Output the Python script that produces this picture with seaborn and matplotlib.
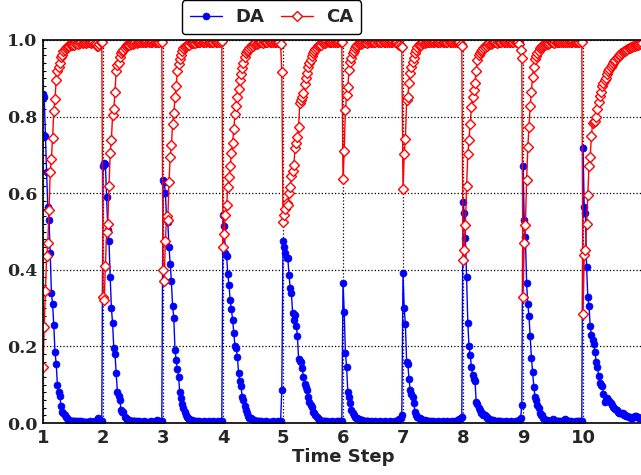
import numpy as np
import pandas as pd
import seaborn as sns
import matplotlib
matplotlib.use("Agg")
import matplotlib.pyplot as plt
from matplotlib.ticker import MultipleLocator

# time steps, each step has 50 samples (dt = 0.02)
steps = [1, 2, 3, 4, 5, 6, 7, 8, 9, 10]
samples_per_step = 50
x_ticks = [1, 2, 3, 4, 5, 6, 7, 8, 9, 10]
y_ticks = [0.0, 0.2, 0.4, 0.6, 0.8, 1.0]

# DA values per time step
da_1 = [0.86, 0.85, 0.75, 0.655, 0.565, 0.53, 0.445, 0.34, 0.31, 0.255,
        0.185, 0.155, 0.10, 0.08, 0.07, 0.045, 0.03, 0.025, 0.02, 0.015,
        0.012, 0.009, 0.008, 0.006, 0.006, 0.005, 0.006, 0.004, 0.005, 0.003,
        0.004, 0.003, 0.004, 0.003, 0.002, 0.003, 0.003, 0.002, 0.003, 0.004,
        0.003, 0.002, 0.003, 0.004, 0.005, 0.008, 0.012, 0.01, 0.006, 0.004]
da_2 = [0.67, 0.68, 0.675, 0.59, 0.505, 0.475, 0.38, 0.30, 0.26, 0.195,
        0.18, 0.13, 0.08, 0.07, 0.06, 0.035, 0.03, 0.028, 0.015, 0.012,
        0.01, 0.008, 0.007, 0.006, 0.005, 0.005, 0.004, 0.006, 0.004, 0.003,
        0.004, 0.003, 0.002, 0.003, 0.004, 0.003, 0.002, 0.003, 0.002, 0.003,
        0.004, 0.003, 0.002, 0.003, 0.004, 0.008, 0.005, 0.003, 0.004, 0.005]
da_3 = [0.635, 0.63, 0.60, 0.53, 0.525, 0.46, 0.415, 0.37, 0.305, 0.275,
        0.19, 0.165, 0.14, 0.12, 0.08, 0.065, 0.05, 0.04, 0.03, 0.022,
        0.015, 0.012, 0.01, 0.008, 0.007, 0.006, 0.005, 0.004, 0.005, 0.003,
        0.004, 0.003, 0.002, 0.003, 0.004, 0.003, 0.002, 0.003, 0.004, 0.003,
        0.002, 0.003, 0.004, 0.003, 0.002, 0.003, 0.004, 0.003, 0.004, 0.005]
da_4 = [0.543, 0.515, 0.443, 0.435, 0.389, 0.36, 0.32, 0.297, 0.27, 0.234,
        0.2, 0.195, 0.173, 0.13, 0.11, 0.096, 0.068, 0.06, 0.045, 0.034,
        0.025, 0.018, 0.014, 0.012, 0.01, 0.008, 0.007, 0.006, 0.005, 0.004,
        0.005, 0.003, 0.004, 0.003, 0.002, 0.003, 0.004, 0.003, 0.002, 0.003,
        0.002, 0.003, 0.004, 0.003, 0.002, 0.003, 0.004, 0.003, 0.005, 0.086]
da_5 = [0.476, 0.459, 0.445, 0.43, 0.432, 0.386, 0.352, 0.339, 0.288, 0.27,
        0.282, 0.254, 0.228, 0.166, 0.163, 0.16, 0.143, 0.121, 0.103, 0.095,
        0.086, 0.068, 0.055, 0.048, 0.042, 0.029, 0.025, 0.02, 0.016, 0.012,
        0.009, 0.007, 0.006, 0.005, 0.004, 0.005, 0.003, 0.004, 0.003, 0.002,
        0.003, 0.004, 0.003, 0.002, 0.003, 0.004, 0.003, 0.004, 0.005, 0.004]
da_6 = [0.365, 0.291, 0.184, 0.146, 0.082, 0.068, 0.051, 0.034, 0.025, 0.021,
        0.016, 0.014, 0.012, 0.01, 0.009, 0.008, 0.007, 0.006, 0.005, 0.006,
        0.004, 0.005, 0.003, 0.004, 0.003, 0.002, 0.003, 0.004, 0.003, 0.002,
        0.003, 0.004, 0.003, 0.002, 0.003, 0.004, 0.003, 0.002, 0.003, 0.004,
        0.003, 0.002, 0.003, 0.004, 0.005, 0.006, 0.008, 0.01, 0.014, 0.02]
da_7 = [0.391, 0.299, 0.258, 0.16, 0.155, 0.114, 0.086, 0.077, 0.068, 0.051,
        0.029, 0.02, 0.016, 0.014, 0.012, 0.01, 0.009, 0.008, 0.007, 0.006,
        0.005, 0.006, 0.004, 0.005, 0.003, 0.004, 0.003, 0.002, 0.003, 0.004,
        0.003, 0.002, 0.003, 0.004, 0.003, 0.002, 0.003, 0.004, 0.003, 0.002,
        0.003, 0.004, 0.003, 0.004, 0.005, 0.006, 0.008, 0.01, 0.012, 0.015]
da_8 = [0.578, 0.547, 0.482, 0.38, 0.262, 0.2, 0.177, 0.147, 0.125, 0.115,
        0.11, 0.055, 0.049, 0.04, 0.034, 0.027, 0.025, 0.022, 0.02, 0.017,
        0.014, 0.012, 0.01, 0.009, 0.008, 0.007, 0.006, 0.005, 0.006, 0.004,
        0.005, 0.003, 0.004, 0.003, 0.002, 0.003, 0.004, 0.003, 0.002, 0.003,
        0.004, 0.003, 0.002, 0.003, 0.004, 0.005, 0.006, 0.008, 0.012, 0.047]
da_9 = [0.671, 0.531, 0.486, 0.365, 0.31, 0.279, 0.227, 0.171, 0.134, 0.095,
        0.068, 0.06, 0.047, 0.038, 0.027, 0.022, 0.02, 0.014, 0.009, 0.008,
        0.007, 0.006, 0.005, 0.006, 0.008, 0.01, 0.008, 0.006, 0.005, 0.004,
        0.005, 0.003, 0.004, 0.005, 0.007, 0.01, 0.008, 0.006, 0.004, 0.003,
        0.004, 0.003, 0.002, 0.003, 0.004, 0.003, 0.004, 0.005, 0.006, 0.005]
da_10 = [0.717, 0.563, 0.547, 0.408, 0.33, 0.305, 0.254, 0.23, 0.218, 0.205,
         0.185, 0.159, 0.146, 0.124, 0.105, 0.1, 0.096, 0.077, 0.055, 0.06,
         0.064, 0.06, 0.058, 0.052, 0.047, 0.042, 0.038, 0.036, 0.034, 0.03,
         0.027, 0.027, 0.027, 0.025, 0.022, 0.02, 0.019, 0.017, 0.016, 0.016,
         0.014, 0.014, 0.016, 0.018, 0.017, 0.016, 0.016, 0.014, 0.012, 0.012]

# CA values
ca_1 = [0.145, 0.25, 0.345, 0.435, 0.47, 0.555, 0.655, 0.69, 0.745, 0.815,
        0.845, 0.895, 0.92, 0.93, 0.94, 0.955, 0.96, 0.97, 0.975, 0.98,
        0.982, 0.985, 0.984, 0.988, 0.987, 0.99, 0.988, 0.991, 0.993, 0.99,
        0.994, 0.991, 0.995, 0.993, 0.996, 0.994, 0.992, 0.995, 0.994, 0.996,
        0.993, 0.995, 0.994, 0.992, 0.99, 0.985, 0.984, 0.99, 0.995, 0.996]
ca_2 = [0.33, 0.32, 0.41, 0.50, 0.52, 0.62, 0.705, 0.74, 0.805, 0.82,
        0.865, 0.92, 0.935, 0.94, 0.955, 0.965, 0.97, 0.975, 0.98, 0.984,
        0.986, 0.988, 0.987, 0.99, 0.992, 0.99, 0.993, 0.995, 0.992, 0.994,
        0.995, 0.997, 0.996, 0.994, 0.997, 0.995, 0.996, 0.998, 0.995, 0.997,
        0.996, 0.994, 0.997, 0.995, 0.996, 0.997, 0.995, 0.996, 0.997, 0.996]
ca_3 = [0.40, 0.372, 0.476, 0.54, 0.53, 0.63, 0.695, 0.725, 0.78, 0.81,
        0.85, 0.88, 0.92, 0.937, 0.95, 0.96, 0.97, 0.978, 0.982, 0.984,
        0.988, 0.99, 0.988, 0.991, 0.993, 0.992, 0.995, 0.993, 0.996, 0.995,
        0.996, 0.994, 0.997, 0.995, 0.996, 0.998, 0.995, 0.997, 0.996, 0.994,
        0.997, 0.995, 0.996, 0.997, 0.995, 0.996, 0.997, 0.996, 0.995, 0.997]
ca_4 = [0.459, 0.494, 0.543, 0.569, 0.616, 0.641, 0.67, 0.704, 0.732, 0.767,
        0.808, 0.828, 0.85, 0.871, 0.895, 0.91, 0.926, 0.94, 0.955, 0.965,
        0.97, 0.975, 0.98, 0.983, 0.986, 0.985, 0.989, 0.991, 0.99, 0.993,
        0.996, 0.994, 0.996, 0.993, 0.997, 0.995, 0.996, 0.994, 0.997, 0.995,
        0.996, 0.997, 0.995, 0.996, 0.994, 0.997, 0.995, 0.996, 0.99, 0.917]
ca_5 = [0.526, 0.543, 0.56, 0.575, 0.569, 0.6, 0.615, 0.644, 0.658, 0.673,
        0.717, 0.732, 0.746, 0.774, 0.835, 0.843, 0.85, 0.861, 0.885, 0.9,
        0.913, 0.93, 0.94, 0.948, 0.958, 0.965, 0.97, 0.976, 0.98, 0.984,
        0.987, 0.99, 0.988, 0.992, 0.994, 0.993, 0.995, 0.997, 0.994, 0.996,
        0.995, 0.997, 0.996, 0.994, 0.997, 0.995, 0.996, 0.997, 0.995, 0.996]
ca_6 = [0.636, 0.711, 0.817, 0.856, 0.878, 0.921, 0.943, 0.952, 0.965, 0.972,
        0.978, 0.984, 0.986, 0.99, 0.992, 0.99, 0.993, 0.996, 0.994, 0.996,
        0.993, 0.997, 0.995, 0.996, 0.994, 0.997, 0.995, 0.996, 0.998, 0.995,
        0.997, 0.996, 0.994, 0.997, 0.995, 0.996, 0.997, 0.995, 0.996, 0.997,
        0.996, 0.995, 0.997, 0.994, 0.996, 0.995, 0.99, 0.988, 0.985, 0.982]
ca_7 = [0.61, 0.702, 0.741, 0.843, 0.852, 0.889, 0.915, 0.929, 0.943, 0.952,
        0.965, 0.975, 0.982, 0.986, 0.99, 0.988, 0.992, 0.995, 0.993, 0.995,
        0.997, 0.994, 0.996, 0.995, 0.997, 0.996, 0.994, 0.997, 0.995, 0.996,
        0.998, 0.995, 0.997, 0.996, 0.994, 0.997, 0.995, 0.996, 0.997, 0.995,
        0.996, 0.997, 0.996, 0.995, 0.997, 0.994, 0.996, 0.995, 0.99, 0.985]
ca_8 = [0.425, 0.452, 0.517, 0.619, 0.702, 0.739, 0.78, 0.824, 0.852, 0.869,
        0.889, 0.92, 0.948, 0.961, 0.966, 0.97, 0.975, 0.979, 0.983, 0.986,
        0.985, 0.989, 0.991, 0.99, 0.993, 0.996, 0.994, 0.996, 0.993, 0.997,
        0.995, 0.996, 0.994, 0.997, 0.995, 0.996, 0.997, 0.995, 0.996, 0.994,
        0.997, 0.995, 0.996, 0.997, 0.995, 0.996, 0.994, 0.99, 0.975, 0.952]
ca_9 = [0.33, 0.47, 0.517, 0.634, 0.72, 0.774, 0.828, 0.865, 0.904, 0.93,
        0.95, 0.958, 0.965, 0.972, 0.978, 0.982, 0.985, 0.988, 0.987, 0.99,
        0.992, 0.99, 0.993, 0.996, 0.994, 0.996, 0.993, 0.997, 0.995, 0.996,
        0.994, 0.997, 0.995, 0.996, 0.998, 0.995, 0.997, 0.996, 0.994, 0.997,
        0.995, 0.996, 0.997, 0.995, 0.996, 0.997, 0.996, 0.995, 0.997, 0.996]
ca_10 = [0.285, 0.439, 0.452, 0.52, 0.595, 0.671, 0.695, 0.749, 0.782, 0.785,
         0.789, 0.798, 0.819, 0.839, 0.853, 0.865, 0.88, 0.888, 0.895, 0.9,
         0.91, 0.918, 0.925, 0.93, 0.935, 0.94, 0.945, 0.948, 0.952, 0.956,
         0.96, 0.962, 0.965, 0.968, 0.97, 0.972, 0.975, 0.976, 0.978, 0.98,
         0.981, 0.983, 0.984, 0.985, 0.987, 0.986, 0.988, 0.99, 0.989, 0.991]

da_steps = [da_1, da_2, da_3, da_4, da_5, da_6, da_7, da_8, da_9, da_10]
ca_steps = [ca_1, ca_2, ca_3, ca_4, ca_5, ca_6, ca_7, ca_8, ca_9, ca_10]

rows = []
for s, da, ca in zip(steps, da_steps, ca_steps):
    for k in range(samples_per_step):
        rows.append((s + k / samples_per_step, da[k], ca[k]))
df = pd.DataFrame(rows, columns=["t", "DA", "CA"])

sns.set_style("white")
plt.rcParams["font.family"] = ["DejaVu Sans"]

fig = plt.figure(figsize=(6.41, 4.75), dpi=100)
ax = fig.add_axes([43 / 641, 52 / 475, 600 / 641, 383 / 475])

sns.lineplot(data=df, x="t", y="DA", ax=ax, color="blue", linewidth=1,
             marker="o", markersize=5, markeredgecolor="blue",
             markeredgewidth=0.5, estimator=None, sort=False, label="DA")
sns.lineplot(data=df, x="t", y="CA", ax=ax, color="red", linewidth=1,
             marker="D", markersize=5.5, markerfacecolor="white",
             markeredgecolor="red", markeredgewidth=1,
             estimator=None, sort=False, label="CA")

ax.set_xlim(1, 11)
ax.set_ylim(0, 1)
ax.set_xticks(x_ticks)
ax.set_yticks(y_ticks)
ax.set_xticklabels([str(v) for v in x_ticks], fontsize=13, fontweight="bold",
                   family="DejaVu Sans")
ax.set_yticklabels(["%.1f" % v for v in y_ticks], fontsize=12.5, fontweight="bold",
                   family="DejaVu Serif")
ax.yaxis.set_minor_locator(MultipleLocator(0.02))
ax.tick_params(axis="both", which="major", direction="in", length=5, width=1,
               color="black", pad=4)
ax.tick_params(axis="y", which="minor", direction="in", length=2.5, width=0.8,
               color="black", left=True)
ax.grid(True, which="major", color="black", linestyle=":", linewidth=0.9)

for side in ["left", "bottom", "top"]:
    ax.spines[side].set_color("black")
    ax.spines[side].set_linewidth(1.2)
ax.spines["right"].set_visible(False)

ax.set_xlabel("Time Step", fontsize=13, fontweight="bold", labelpad=1)
ax.set_ylabel("")

handles, labels = ax.get_legend_handles_labels()
ax.get_legend().remove()
fig.legend(handles, labels, loc="upper center", bbox_to_anchor=(271.5 / 641, 1.0),
           ncol=2, frameon=True, fancybox=True, edgecolor="black", framealpha=1,
           prop={"weight": "bold", "size": 13}, handlelength=1.8,
           columnspacing=0.95, borderpad=0.45, handletextpad=0.7,
           borderaxespad=0.0)

fig.savefig("out.png", dpi=100)
